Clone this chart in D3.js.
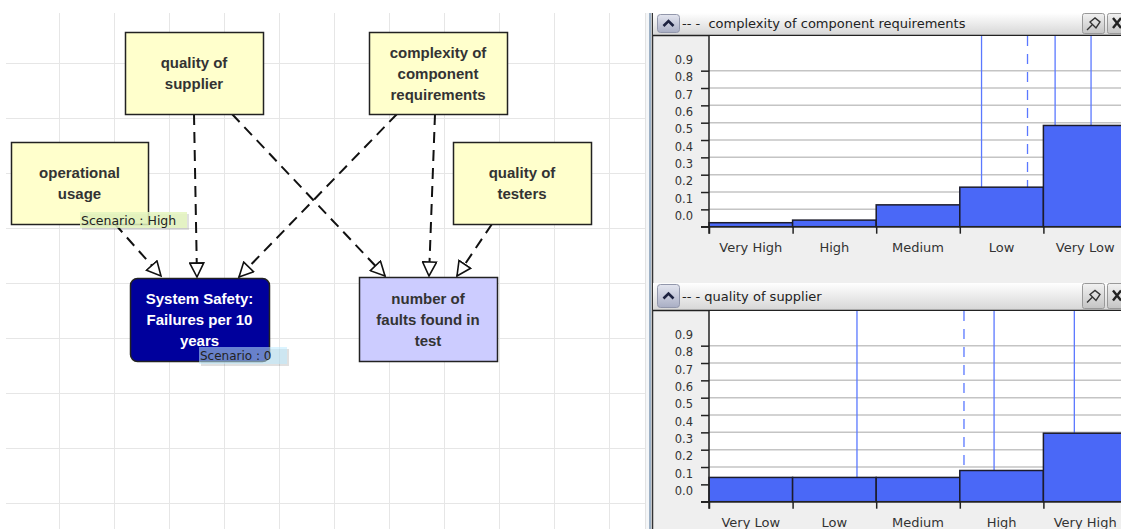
<!DOCTYPE html>
<html><head><meta charset="utf-8">
<script src="https://cdn.jsdelivr.net/npm/d3@7"></script>
<style>
body{margin:0;background:#fff;overflow:hidden}
svg{display:block}
</style>
</head><body>
<svg id="c" width="1121" height="529"></svg>
<script>
// ---------------- data ----------------
const complexityCategories = ["Very High", "High", "Medium", "Low", "Very Low"];
const complexityValues = [0.023, 0.038, 0.126, 0.228, 0.584];
const complexityMarkers = [3.26, 3.81, 4.14, 4.57];
const complexityMarkerDashed = [false, true, false, false];

const supplierCategories = ["Very Low", "Low", "Medium", "High", "Very High"];
const supplierValues = [0.14, 0.14, 0.14, 0.18, 0.395];
const supplierMarkers = [1.77, 3.05, 3.41, 4.37];
const supplierMarkerDashed = [false, true, false, false];

const yTickValues = [0, 0.1, 0.2, 0.3, 0.4, 0.5, 0.6, 0.7, 0.8, 0.9];

const panelTitles = ["-- -  complexity of component requirements", "-- - quality of supplier"];

const nodeIds = ["supplier", "usage", "complexity", "testers", "safety", "faults"];
const nodeLabels = [
  ["quality of", "supplier"],
  ["operational", "usage"],
  ["complexity of", "component", "requirements"],
  ["quality of", "testers"],
  ["System Safety:", "Failures per 10", "years"],
  ["number of", "faults found in", "test"]
];
const edgeFrom = ["usage", "supplier", "supplier", "complexity", "complexity", "testers"];
const edgeTo   = ["safety", "safety", "faults", "safety", "faults", "faults"];
const scenarioTexts = ["Scenario : High", "Scenario : 0"];

// ---------------- layout (positions/styles) ----------------
const nodeBox = {
  supplier:   {x:125, y:32,  w:138, h:82, fill:"#ffffcc", text:"#333", rx:0},
  usage:      {x:11,  y:142, w:137, h:82, fill:"#ffffcc", text:"#333", rx:0},
  complexity: {x:369, y:32,  w:138, h:82, fill:"#ffffcc", text:"#333", rx:0},
  testers:    {x:453, y:142, w:138, h:82, fill:"#ffffcc", text:"#333", rx:0},
  safety:     {x:130, y:278, w:139, h:83, fill:"#00009c", text:"#ffffff", rx:7},
  faults:     {x:359, y:277, w:138, h:84, fill:"#ccccff", text:"#333", rx:0}
};
const edgeGeom = [
  [[115,224],[161,276]],
  [[194,114],[197,277]],
  [[232,114],[385,276]],
  [[397,114],[239,277]],
  [[435,114],[429,276]],
  [[492,224],[457,276]]
];
const scenarioBox = [
  {x:80, y:212, w:107, h:16, fill:"rgba(228,245,190,0.85)", fs:12.5},
  {x:199, y:347, w:88, h:17, fill:"rgba(190,235,255,0.55)", fs:12}
];

const svg = d3.select("#c");
const defs = svg.append("defs");

// ---------- diagram grid ----------
const grid = svg.append("g");
grid.append("rect").attr("x",6).attr("y",13).attr("width",640).attr("height",516).attr("fill","#fff");
d3.range(59, 646, 55).forEach(x => grid.append("line").attr("x1",x+0.5).attr("x2",x+0.5).attr("y1",13).attr("y2",529).attr("stroke","#e6e6e6"));
d3.range(63, 529, 55).forEach(y => grid.append("line").attr("x1",6).attr("x2",646).attr("y1",y+0.5).attr("y2",y+0.5).attr("stroke","#e6e6e6"));
grid.append("line").attr("x1",645.5).attr("x2",645.5).attr("y1",13).attr("y2",529).attr("stroke","#e2e2e2");

// ---------- arrow marker ----------
defs.append("marker").attr("id","arr").attr("markerUnits","userSpaceOnUse")
  .attr("viewBox","-1 -1 17 16").attr("markerWidth",17).attr("markerHeight",16)
  .attr("refX",14).attr("refY",7).attr("orient","auto")
  .append("path").attr("d","M0,0 L14,7 L0,14 Z")
  .attr("fill","#fff").attr("stroke","#111").attr("stroke-width",1.6).attr("stroke-dasharray","none");

// ---------- edges ----------
svg.append("g").selectAll("line").data(edgeFrom).join("line")
  .attr("x1",(d,i)=>edgeGeom[i][0][0]).attr("y1",(d,i)=>edgeGeom[i][0][1])
  .attr("x2",(d,i)=>edgeGeom[i][1][0]).attr("y2",(d,i)=>edgeGeom[i][1][1])
  .attr("stroke","#111").attr("stroke-width",2).attr("stroke-dasharray","11,7")
  .attr("marker-end","url(#arr)");

// ---------- nodes ----------
const ng = svg.append("g").selectAll("g").data(nodeIds).join("g");
ng.append("rect")
  .attr("x",d=>nodeBox[d].x+0.5).attr("y",d=>nodeBox[d].y+0.5)
  .attr("width",d=>nodeBox[d].w).attr("height",d=>nodeBox[d].h)
  .attr("rx",d=>nodeBox[d].rx)
  .attr("fill",d=>nodeBox[d].fill).attr("stroke","#222").attr("stroke-width",1.5);
ng.each(function(d,i){
  const b = nodeBox[d], lines = nodeLabels[i];
  const cy = b.y + b.h/2;
  d3.select(this).selectAll("text").data(lines).join("text")
    .attr("x", b.x + b.w/2)
    .attr("y", (t,j)=> cy + (j-(lines.length-1)/2)*21 + 5.5)
    .attr("text-anchor","middle")
    .attr("font-family","'Liberation Sans', Arial, sans-serif")
    .attr("font-weight","bold").attr("font-size",15)
    .attr("fill", b.text).text(t=>t);
});

// ---------- scenario labels ----------
const sg = svg.append("g").selectAll("g").data(scenarioTexts).join("g");
sg.append("rect").attr("x",(d,i)=>scenarioBox[i].x+2).attr("y",(d,i)=>scenarioBox[i].y+2)
  .attr("width",(d,i)=>scenarioBox[i].w).attr("height",(d,i)=>scenarioBox[i].h).attr("fill","rgba(0,0,0,0.12)");
sg.append("rect").attr("x",(d,i)=>scenarioBox[i].x).attr("y",(d,i)=>scenarioBox[i].y)
  .attr("width",(d,i)=>scenarioBox[i].w).attr("height",(d,i)=>scenarioBox[i].h).attr("fill",(d,i)=>scenarioBox[i].fill);
sg.append("text").attr("x",(d,i)=>scenarioBox[i].x+1).attr("y",(d,i)=>scenarioBox[i].y+scenarioBox[i].h/2+4.5)
  .attr("font-family","'DejaVu Sans', Verdana, sans-serif").attr("font-size",(d,i)=>scenarioBox[i].fs)
  .attr("fill","#222").text(d=>d);

// ---------- right side separator ----------
svg.append("rect").attr("x",646).attr("y",13).attr("width",6).attr("height",516).attr("fill","#f4f6f8");
svg.append("line").attr("x1",650).attr("x2",650).attr("y1",13).attr("y2",529).attr("stroke","#7f98b5").attr("stroke-width",1.5);
svg.append("rect").attr("x",652).attr("y",13).attr("width",469).attr("height",516).attr("fill","#efefef");
svg.append("line").attr("x1",652.5).attr("x2",652.5).attr("y1",13).attr("y2",529).attr("stroke","#333").attr("stroke-width",1.5);

// gradients
const tg = defs.append("linearGradient").attr("id","tbar").attr("x1",0).attr("y1",0).attr("x2",0).attr("y2",1);
tg.append("stop").attr("offset","0%").attr("stop-color","#ffffff");
tg.append("stop").attr("offset","100%").attr("stop-color","#d6d6d6");
const bg = defs.append("linearGradient").attr("id","btn").attr("x1",0).attr("y1",0).attr("x2",0).attr("y2",1);
bg.append("stop").attr("offset","0%").attr("stop-color","#e4e6f0");
bg.append("stop").attr("offset","100%").attr("stop-color","#a9aec4");
const bg2 = defs.append("linearGradient").attr("id","btn2").attr("x1",0).attr("y1",0).attr("x2",0).attr("y2",1);
bg2.append("stop").attr("offset","0%").attr("stop-color","#f2f2f2");
bg2.append("stop").attr("offset","100%").attr("stop-color","#c4c4c4");

function drawPanel(title, cats, vals, markers, dashed, barTop, plotTop, base) {
  const g = svg.append("g");
  // title bar
  g.append("rect").attr("x",653).attr("y",barTop).attr("width",468).attr("height",plotTop-barTop).attr("fill","url(#tbar)");
  g.append("rect").attr("x",657.5).attr("y",barTop+1.5).attr("width",22).attr("height",plotTop-barTop-4).attr("rx",3)
    .attr("fill","url(#btn)").attr("stroke","#9297ab");
  const bcx = 668.5, bcy = barTop + (plotTop-barTop)/2 - 1;
  g.append("path").attr("d",`M${bcx-5},${bcy+3} L${bcx},${bcy-2} L${bcx+5},${bcy+3}`)
    .attr("fill","none").attr("stroke","#1d2240").attr("stroke-width",2.6);
  g.append("text").attr("x",682).attr("y",bcy+5).attr("font-family","'DejaVu Sans', Verdana, sans-serif")
    .attr("font-size",13).attr("fill","#222").style("white-space","pre").text(title);
  // right buttons
  g.append("rect").attr("x",1082.5).attr("y",barTop+0.5).attr("width",22).attr("height",plotTop-barTop-2).attr("rx",2)
    .attr("fill","url(#btn2)").attr("stroke","#999");
  g.append("path").attr("d",`M1087,${bcy+7} L1092,${bcy+2} M1090,${bcy-1} L1096,${bcy+5} L1100,${bcy-1} L1095,${bcy-5} Z`)
    .attr("fill","none").attr("stroke","#333").attr("stroke-width",1.4);
  g.append("rect").attr("x",1107.5).attr("y",barTop+0.5).attr("width",22).attr("height",plotTop-barTop-2).attr("rx",2)
    .attr("fill","url(#btn2)").attr("stroke","#999");
  g.append("path").attr("d",`M1113,${bcy-5} L1121,${bcy+5} M1121,${bcy-5} L1113,${bcy+5}`)
    .attr("stroke","#222").attr("stroke-width",2.4);
  g.append("line").attr("x1",653).attr("x2",1121).attr("y1",plotTop+0.5).attr("y2",plotTop+0.5).attr("stroke","#222").attr("stroke-width",1.5);

  const xl = d3.scaleLinear().domain([0, cats.length]).range([709, 1127]);
  const xb = d3.scaleBand().domain(cats).range([709, 1127]).padding(0);
  const y = d3.scaleLinear().domain([0, 1.1]).range([base, plotTop+1]);

  // plot area
  g.append("rect").attr("x",709).attr("y",plotTop+1).attr("width",420).attr("height",base-plotTop-1).attr("fill","#fff");
  // gridlines
  g.append("g").selectAll("line").data(yTickValues.slice(1)).join("line")
    .attr("x1",709).attr("x2",1121).attr("y1",d=>y(d)).attr("y2",d=>y(d))
    .attr("stroke","#c4c4c4").attr("stroke-width",1.5);
  // markers (vertical lines from top to bar top)
  g.append("g").selectAll("line").data(markers).join("line")
    .attr("x1",d=>xl(d)).attr("x2",d=>xl(d)).attr("y1",plotTop+1)
    .attr("y2",d=>y(vals[Math.floor(d)]))
    .attr("stroke","#5a78ff").attr("stroke-width",1.3)
    .attr("stroke-dasharray",(d,i)=>dashed[i]?"10,8":null);
  // bars
  g.append("g").selectAll("rect").data(vals).join("rect")
    .attr("x",(d,i)=>xb(cats[i])).attr("width",xb.bandwidth())
    .attr("y",d=>y(d)).attr("height",d=>base-y(d))
    .attr("fill","#4a68f7").attr("stroke","#1c1c2c").attr("stroke-width",1.5);
  // y axis
  const ya = g.append("g").attr("transform","translate(709,0)")
    .call(d3.axisLeft(y).tickValues(yTickValues).tickSize(8).tickPadding(8).tickFormat(d3.format(".1f")));
  ya.select(".domain").attr("d",`M0,${plotTop+1}V${base+7}`).attr("stroke","#222").attr("stroke-width",1.5);
  ya.selectAll(".tick line").attr("stroke","#222").attr("stroke-width",1.5);
  ya.selectAll(".tick text").attr("y", -(y(0)-y(0.062))).attr("font-family","'DejaVu Sans', Verdana, sans-serif")
    .attr("font-size",11.5).attr("fill","#333");
  // x axis boundaries
  const xa = g.append("g").attr("transform",`translate(0,${base})`)
    .call(d3.axisBottom(xl).tickValues(d3.range(0, cats.length)).tickSize(7).tickFormat(""));
  xa.select(".domain").attr("d","M701,0H1121").attr("stroke","#222").attr("stroke-width",1.5);
  xa.selectAll(".tick line").attr("stroke","#222").attr("stroke-width",1.5);
  const xc = g.append("g").attr("transform",`translate(0,${base})`)
    .call(d3.axisBottom(xb).tickSize(0).tickPadding(16));
  xc.select(".domain").remove();
  xc.selectAll(".tick text").attr("font-family","'DejaVu Sans', Verdana, sans-serif")
    .attr("font-size",13).attr("fill","#333");
}

drawPanel(panelTitles[0], complexityCategories, complexityValues, complexityMarkers, complexityMarkerDashed, 13, 35, 226.7);
drawPanel(panelTitles[1], supplierCategories, supplierValues, supplierMarkers, supplierMarkerDashed, 283, 310, 501.7);
</script>
</body></html>
